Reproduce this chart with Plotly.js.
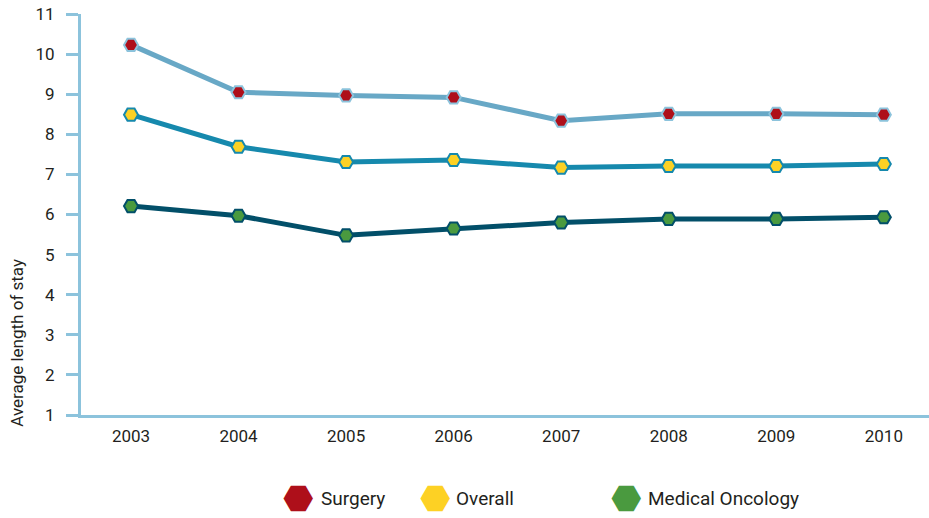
<!DOCTYPE html>
<html><head><meta charset="utf-8">
<script src="https://cdn.plot.ly/plotly-3.0.1.min.js"></script>
<style>html,body{margin:0;padding:0;background:#fff}#c{width:929px;height:518px}</style>
</head><body><div id="c"></div>
<script>
var years = ['2003','2004','2005','2006','2007','2008','2009','2010'];
var surgery = [10.23, 9.05, 8.97, 8.92, 8.34, 8.51, 8.51, 8.49];
var overall = [8.49, 7.69, 7.31, 7.36, 7.17, 7.21, 7.21, 7.26];
var oncology = [6.21, 5.97, 5.48, 5.65, 5.80, 5.89, 5.89, 5.93];
var yTicks = [1,2,3,4,5,6,7,8,9,10,11];
var seriesNames = ['Surgery', 'Overall', 'Medical Oncology'];
var markerColors = ['#ae0f1a', '#fdd124', '#4a9a3f'];

var F = 'Roboto, "Liberation Sans Narrow", sans-serif';
function tr(i, y, lc, ml){
  return {x: years, y: y, name: seriesNames[i], type: 'scatter', mode: 'lines+markers',
    showlegend: false,
    line: {color: lc, width: 5},
    marker: {symbol: 'hexagon2', size: 14, color: markerColors[i], line: {color: ml, width: 2}}};
}
var data = [
  tr(0, surgery, '#68a8c6', '#8cc3dc'),
  tr(1, overall, '#1689ad', '#1689ad'),
  tr(2, oncology, '#024f69', '#024f69')
];
// legend built from annotations (hexagon glyph + label)
var legGlyphX = [0.2566, 0.418, 0.643];
var legTextX = [0.2805, 0.4397, 0.666];
var legY = -0.207;
var ann = [{text: 'Average length of stay', xref: 'paper', yref: 'paper',
    x: -0.0755, y: 0.18, xanchor: 'center', yanchor: 'middle', textangle: -90, showarrow: false,
    font: {size: 17, family: F, color: '#231f20'}}];
for (var i = 0; i < 3; i++) {
  ann.push({text: '\u2B23', xref: 'paper', yref: 'paper', x: legGlyphX[i], y: legY,
    xanchor: 'center', yanchor: 'middle', showarrow: false, height: 44,
    font: {size: 35, family: 'DejaVu Sans', color: markerColors[i]}});
  ann.push({text: seriesNames[i], xref: 'paper', yref: 'paper', x: legTextX[i], y: legY,
    xanchor: 'left', yanchor: 'middle', showarrow: false,
    font: {size: 19, family: F, color: '#231f20'}});
}
var layout = {
  width: 929, height: 518,
  margin: {l: 81, r: 0, t: 14, b: 103, autoexpand: false},
  paper_bgcolor: '#fff', plot_bgcolor: '#fff',
  font: {family: F, color: '#231f20', size: 18},
  showlegend: false,
  xaxis: {type: 'category', range: [-0.465, 7.42], showgrid: false, zeroline: false,
    showline: true, linecolor: '#8cc3dc', linewidth: 3, ticks: '', ticklabelstandoff: 4,
    tickfont: {size: 17, family: F}},
  yaxis: {range: [1, 11], tickvals: yTicks, showgrid: false, zeroline: false,
    showline: true, linecolor: '#8cc3dc', linewidth: 3, ticks: 'outside', ticklen: 12,
    tickwidth: 3, tickcolor: '#8cc3dc', ticklabelstandoff: 8, tickfont: {size: 17, family: F}},
  annotations: ann
};
Plotly.newPlot('c', data, layout, {displayModeBar: false});
</script></body></html>
